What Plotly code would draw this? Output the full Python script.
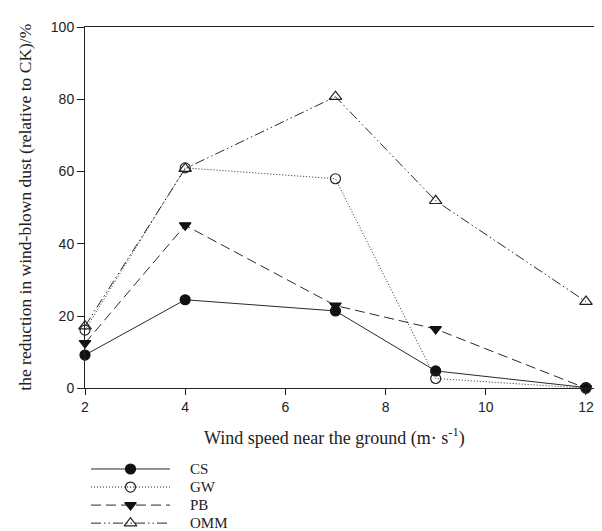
import plotly.graph_objects as go

wind_speed = [2, 4, 7, 9, 12]
cs = [9.2, 24.5, 21.4, 4.8, 0.2]
gw = [16.1, 61.0, 58.0, 2.7, 0.0]
pb = [12.5, 45.1, 22.9, 16.4, 0.0]
omm = [17.2, 60.8, 80.7, 51.9, 24.0]

series_names = ["CS", "GW", "PB", "OMM"]
series_values = [cs, gw, pb, omm]
x_ticks = [2, 4, 6, 8, 10, 12]
y_ticks = [0, 20, 40, 60, 80, 100]

styles = {
    "CS": dict(dash="solid", symbol="circle", mcolor="#111", size=10),
    "GW": dict(dash="1px,2px", symbol="circle-open", mcolor="#222", size=10),
    "PB": dict(dash="10px,5px", symbol="triangle-down", mcolor="#111", size=10),
    "OMM": dict(dash="10px,3px,1.5px,3px,1.5px,3px", symbol="triangle-up-open", mcolor="#222", size=11),
}
LINE = "#2a2a2a"

fig = go.Figure()
for name, vals in zip(series_names, series_values):
    st = styles[name]
    fig.add_trace(go.Scatter(
        x=wind_speed, y=vals, mode="lines+markers", name=name, showlegend=False,
        line=dict(color=LINE, width=1, dash=st["dash"]),
        marker=dict(symbol=st["symbol"], size=st["size"], color=st["mcolor"],
                    line=dict(color=st["mcolor"], width=1.2)),
        cliponaxis=False,
    ))

# key panel drawn below the chart (line sample, marker, label)
for i, name in enumerate(series_names):
    st = styles[name]
    fig.add_trace(go.Scatter(
        x=[0, 1], y=[i, i], mode="lines", xaxis="x2", yaxis="y2", showlegend=False,
        line=dict(color=LINE, width=1, dash=st["dash"]), hoverinfo="skip",
    ))
    fig.add_trace(go.Scatter(
        x=[0.5], y=[i], mode="markers", xaxis="x2", yaxis="y2", showlegend=False,
        marker=dict(symbol=st["symbol"], size=st["size"], color=st["mcolor"],
                    line=dict(color=st["mcolor"], width=1.2)),
        cliponaxis=False,
    ))
    fig.add_annotation(x=1.23, y=i, xref="x2", yref="y2", text=name, showarrow=False,
                       xanchor="left", yanchor="middle",
                       font=dict(family="Liberation Serif", size=15, color="#222"))

W, H = 602, 531
ml, mr, mt = 77, 1, 19
plot_w = W - ml - mr
plot_h = H - mt


def px_x(px):
    return (px - ml) / plot_w


def px_y(py):
    return (H - py) / plot_h


fig.update_layout(
    width=W, height=H,
    margin=dict(l=ml, r=mr, t=mt, b=0),
    paper_bgcolor="white", plot_bgcolor="white",
    showlegend=False,
    xaxis=dict(range=[2, 12.46], tickvals=x_ticks, ticks="outside", ticklen=6, tickwidth=1,
               tickcolor="#222", showline=True, linecolor="#222", linewidth=1, mirror=True,
               showgrid=False, zeroline=False,
               tickfont=dict(family="Liberation Sans", size=14, color="#222"),
               anchor="y"),
    yaxis=dict(range=[0, 100], tickvals=y_ticks, ticks="outside", ticklen=7, tickwidth=1,
               tickcolor="#222", showline=True, linecolor="#222", linewidth=1, mirror=True,
               showgrid=False, zeroline=False,
               domain=[px_y(386), 1],
               tickfont=dict(family="Liberation Sans", size=14, color="#222"),
               anchor="x"),
    xaxis2=dict(domain=[px_x(83), px_x(83 + 1.6 * 79)], range=[0, 1.6],
                visible=False, anchor="y2"),
    yaxis2=dict(domain=[0, px_y(460)], range=[3.436, -0.436],
                visible=False, anchor="x2"),
)
fig.add_annotation(x=px_x(326.5), y=px_y(435), xref="paper", yref="paper",
                   text="Wind speed near the ground (m· s<sup>-1</sup>)", showarrow=False,
                   xanchor="center", yanchor="middle",
                   font=dict(family="Liberation Serif", size=18, color="#222"))
fig.add_annotation(x=px_x(17), y=px_y(202.5), xref="paper", yref="paper",
                   text="the reduction in wind-blown dust (relative to CK)/%", showarrow=False,
                   textangle=-90, xanchor="center", yanchor="middle",
                   font=dict(family="Liberation Serif", size=17.5, color="#222"))
fig.write_html("out.html")
